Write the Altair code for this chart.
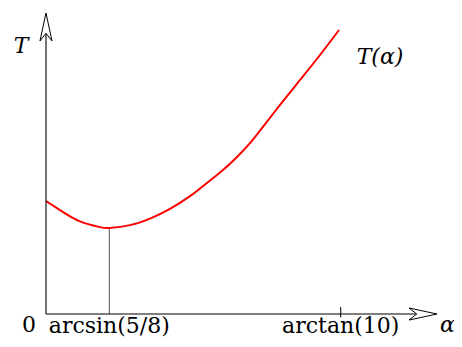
import altair as alt
import pandas as pd

# curve T(alpha), schematic units (origin = 0, arctan(10) tick = 1)
alpha_pos = [0.0, 0.0475, 0.1154, 0.1832, 0.2148, 0.2850, 0.3529, 0.4208, 0.4887,
             0.5226, 0.5905, 0.6481, 0.6922, 0.7262, 0.7940, 0.8619, 0.9298, 0.9942]
T_vals = [0.398, 0.366, 0.326, 0.306, 0.303, 0.313, 0.336, 0.370, 0.415,
          0.442, 0.498, 0.553, 0.602, 0.646, 0.736, 0.824, 0.912, 1.000]

tick_pos = [0.2148, 1.0]
tick_labels = ["arcsin(5/8)", "arctan(10)"]
T_min = 0.303

x_end = 1.3268
y_end = 1.0599

xs = alt.Scale(domain=[-0.1289, 1.3844], nice=False, zero=False)
ys = alt.Scale(domain=[-0.0880, 1.0775], nice=False, zero=False)

FONT = "DejaVu Serif"
FS = 22

curve_df = pd.DataFrame({"a": alpha_pos, "T": T_vals})

def X(f):
    return alt.X(f, type="quantitative", scale=xs, axis=None)

def Y(f):
    return alt.Y(f, type="quantitative", scale=ys, axis=None)

curve = alt.Chart(curve_df).mark_line(color="#ff0000", strokeWidth=2, interpolate="natural").encode(
    x=X("a"), y=Y("T"))

vline = alt.Chart(pd.DataFrame({"a": [tick_pos[0]], "y0": [0.0], "y1": [T_min]})).mark_rule(
    color="#555555", strokeWidth=1).encode(x=X("a"), y=Y("y0"), y2="y1")

xaxis = alt.Chart(pd.DataFrame({"x0": [0.0], "x1": [x_end - 0.05], "y": [0.0]})).mark_rule(
    color="black", strokeWidth=1.1).encode(x=X("x0"), x2="x1", y=Y("y"))
yaxis = alt.Chart(pd.DataFrame({"x": [0.0], "y0": [0.0], "y1": [y_end - 0.05]})).mark_rule(
    color="black", strokeWidth=1.1).encode(x=X("x"), y=Y("y0"), y2="y1")

tick = alt.Chart(pd.DataFrame({"a": [tick_pos[1]], "y0": [-0.012], "y1": [0.025]})).mark_rule(
    color="black", strokeWidth=1).encode(x=X("a"), y=Y("y0"), y2="y1")

arrow_right = alt.Chart(pd.DataFrame({"x": [x_end - 14 / 294.7], "y": [0.0]})).mark_point(
    shape="M1,0 L-1,0.43 L-0.45,0 L-1,-0.43 Z", size=784, filled=True, fill="white",
    stroke="black", strokeWidth=1, opacity=1).encode(x=X("x"), y=Y("y"))
arrow_up = alt.Chart(pd.DataFrame({"x": [0.0], "y": [y_end - 14 / 284]})).mark_point(
    shape="M0,-1 L0.43,1 L0,0.45 L-0.43,1 Z", size=784, filled=True, fill="white",
    stroke="black", strokeWidth=1, opacity=1).encode(x=X("x"), y=Y("y"))

tick_text = alt.Chart(pd.DataFrame({"x": tick_pos, "y": [-0.0655, -0.0655], "t": tick_labels})).mark_text(
    font=FONT, fontSize=FS, align="center", baseline="alphabetic", color="black").encode(
    x=X("x"), y=Y("y"), text="t:N")

zero_text = alt.Chart(pd.DataFrame({"x": [-0.0577], "y": [-0.0620], "t": ["0"]})).mark_text(
    font=FONT, fontSize=FS, align="center", baseline="alphabetic", color="black").encode(
    x=X("x"), y=Y("y"), text="t:N")

ital_text = alt.Chart(pd.DataFrame({
    "x": [-0.0848, 1.1334, 1.362],
    "y": [0.919, 0.880, -0.0620],
    "t": ["T", "T(α)", "α"]})).mark_text(
    font=FONT, fontSize=FS, fontStyle="italic", align="center", baseline="alphabetic",
    color="black").encode(x=X("x"), y=Y("y"), text="t:N")

chart = alt.layer(vline, curve, xaxis, yaxis, tick, arrow_right, arrow_up,
                  tick_text, zero_text, ital_text).properties(
    width=446, height=331, autosize="none", padding=0,
    background="white").configure_view(stroke=None)

chart.save("out.html", embed_options={"renderer": "svg", "actions": False})
